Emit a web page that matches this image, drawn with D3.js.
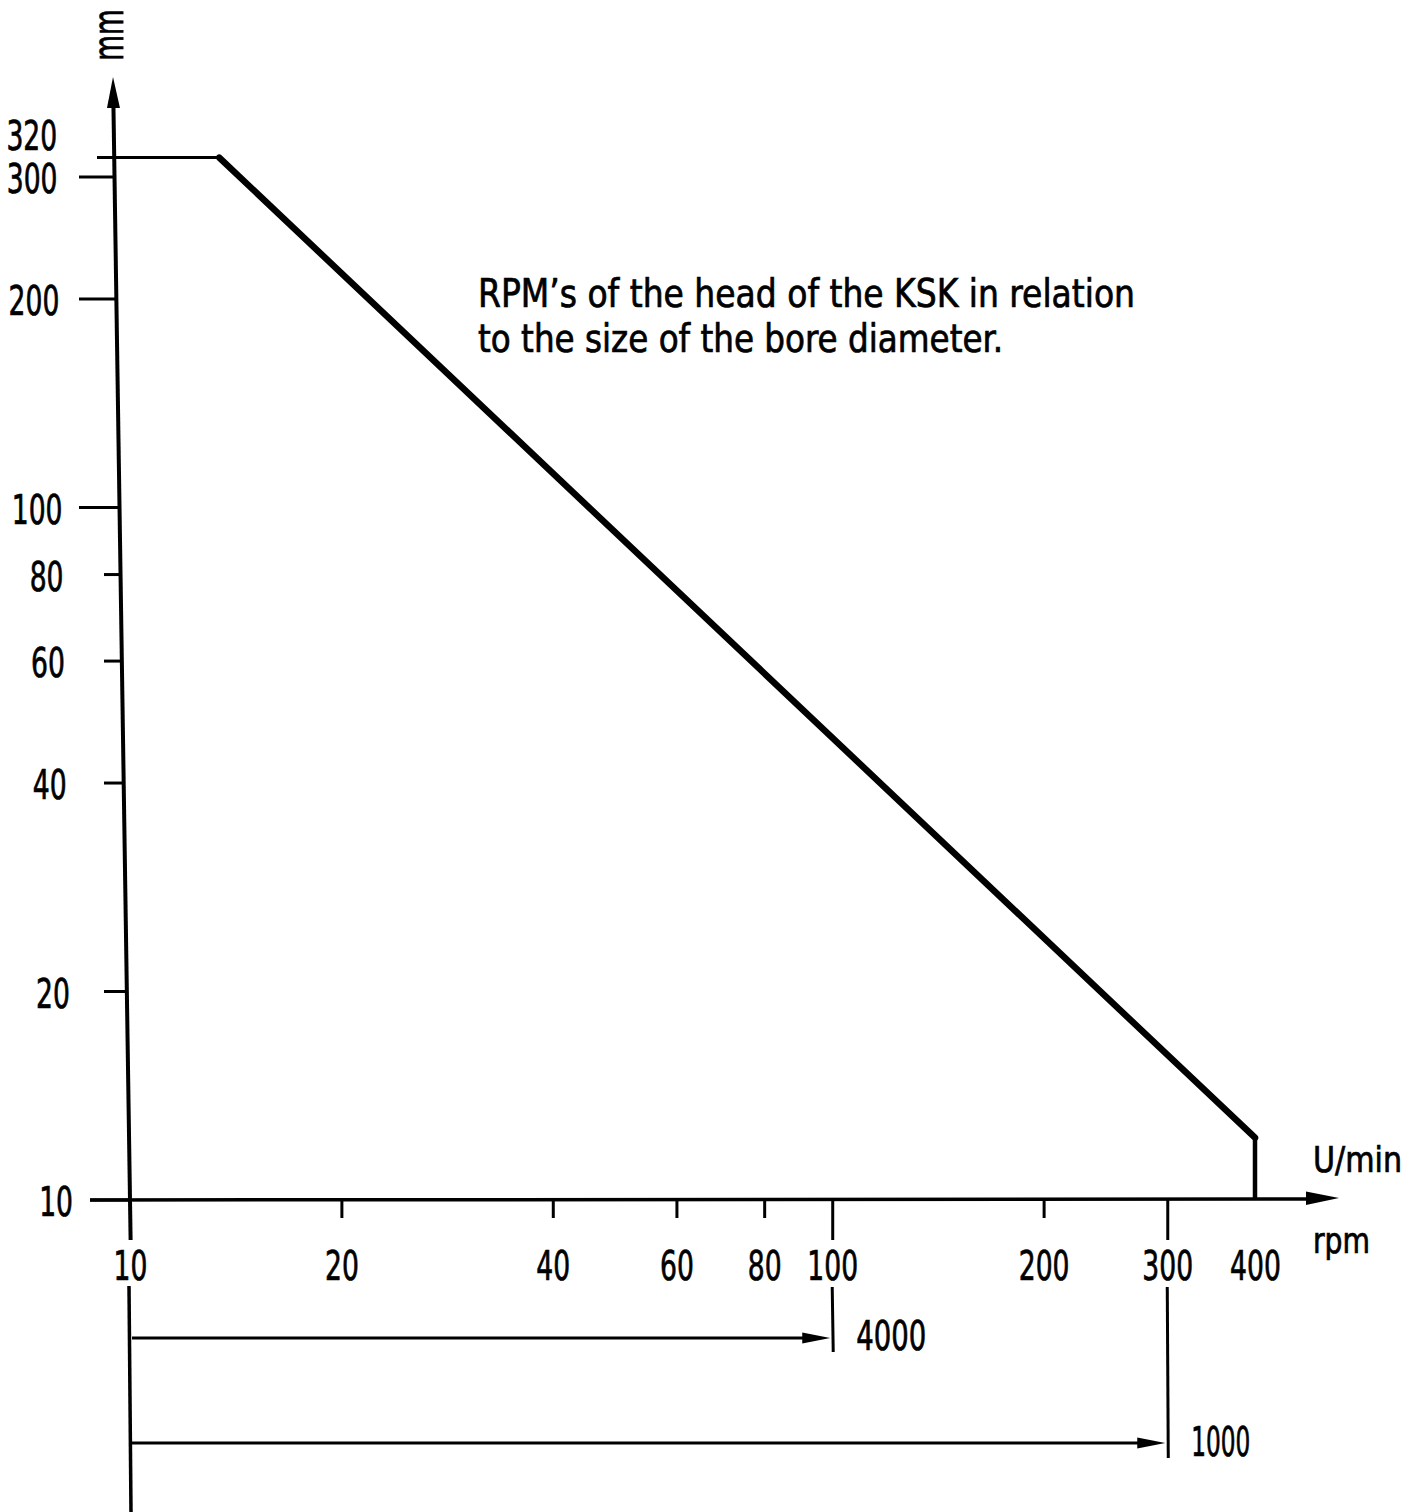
<!DOCTYPE html>
<html>
<head>
<meta charset="utf-8">
<script src="https://cdn.jsdelivr.net/npm/d3@7"></script>
<style>
  html, body { margin: 0; padding: 0; background: #fff; }
  svg { display: block; }
  text { font-family: "DejaVu Sans Condensed", "DejaVu Sans", sans-serif; fill: #000; stroke: #000; stroke-width: 0.7px; }
</style>
</head>
<body>
<script>
// ---------- data ----------
const yTickValues = [10, 20, 40, 60, 80, 100, 200, 300, 320];
const xTickValues = [10, 20, 40, 60, 80, 100, 200, 300, 400];
const curveRpm = [10, 13.4, 400, 400];      // rpm (U/min)
const curveDia = [320, 320, 12.3, 10];      // bore diameter, mm
const rangeStart = 10;
const rangeEnds = [100, 300];
const rangeLabels = ["4000", "1000"];
const titleLines = ["RPM’s of the head of the KSK in relation", "to the size of the bore diameter."];

// ---------- setup ----------
const W = 1421, H = 1512;
const svg = d3.select("body").append("svg").attr("width", W).attr("height", H);
svg.append("rect").attr("width", W).attr("height", H).attr("fill", "#fff");

const x = d3.scaleLog().domain([10, 400]).range([130, 1255]);
const y = d3.scaleLog().domain([10, 300]).range([1200, 177]);
const SX = 0.74;            // narrow technical lettering
const FS = 40;

// the drawn ordinate is slightly slanted
const axisTop = [113, 77], axisBot = [130, 1200];
const axisX = py => axisTop[0] + (py - axisTop[1]) * (axisBot[0] - axisTop[0]) / (axisBot[1] - axisTop[1]);

// ---------- y axis ----------
svg.append("line")
  .attr("x1", axisX(105)).attr("y1", 105)
  .attr("x2", axisX(1240)).attr("y2", 1240)
  .attr("stroke", "#000").attr("stroke-width", 4);
svg.append("path")
  .attr("d", `M${axisTop[0]},${axisTop[1]} L${axisX(108) - 6.5},108 L${axisX(108) + 6.5},108 Z`)
  .attr("fill", "#000");

const leftEnd = d => d === 320 ? 97 : d === 10 ? 90 : d >= 100 ? 79 : 104;
const gy = svg.append("g")
  .call(d3.axisLeft(y).tickValues(yTickValues).tickSize(0).tickFormat(d3.format("d")));
gy.select(".domain").remove();
gy.selectAll(".tick").attr("transform", d => `translate(${axisX(y(d))},${y(d)})`);
gy.selectAll(".tick line")
  .attr("x1", d => d === 320 ? x(10) - axisX(y(d)) + 2 : 0)
  .attr("x2", d => leftEnd(d) - axisX(y(d)))
  .attr("stroke", "#000").attr("stroke-width", 3);
gy.selectAll(".tick text")
  .attr("font-size", FS).attr("font-family", null)
  .attr("text-anchor", "end")
  .attr("x", -57 / SX)
  .attr("y", d => d === 320 ? -22 : 2)
  .attr("dy", "0.36em")
  .attr("transform", `scale(${SX},1)`);

svg.append("text")
  .attr("transform", "translate(123,35) rotate(-90) scale(0.7,1)")
  .attr("font-size", 42)
  .attr("text-anchor", "middle")
  .text("mm");

// ---------- x axis ----------
svg.append("line")
  .attr("x1", 90).attr("y1", 1200).attr("x2", 1312).attr("y2", 1199)
  .attr("stroke", "#000").attr("stroke-width", 3.5);
svg.append("path")
  .attr("d", "M1339,1198 L1306,1191.5 L1306,1205 Z")
  .attr("fill", "#000");

const tickLen = d => (d === 10 || d === 100 || d === 300) ? 40 : d === 400 ? 0 : 18;
const gx = svg.append("g").attr("transform", "translate(0,1200)")
  .call(d3.axisBottom(x).tickValues(xTickValues).tickSize(0).tickFormat(d3.format("d")));
gx.select(".domain").remove();
gx.selectAll(".tick line").attr("y2", d => tickLen(d)).attr("stroke", "#000").attr("stroke-width", 3);
gx.selectAll(".tick text")
  .attr("font-size", FS).attr("font-family", null)
  .attr("text-anchor", "middle")
  .attr("y", 80).attr("dy", 0)
  .attr("transform", `scale(${SX},1)`);

svg.append("text").attr("x", 1313).attr("y", 1172).attr("font-size", 36)
  .attr("textLength", 89).attr("lengthAdjust", "spacingAndGlyphs").text("U/min");
svg.append("text").attr("x", 1313).attr("y", 1253).attr("font-size", 36)
  .attr("textLength", 57).attr("lengthAdjust", "spacingAndGlyphs").text("rpm");

// ---------- curve ----------
const pts = curveRpm.map((r, i) => [x(r), y(curveDia[i])]);
const segWidths = [3, 6.5, 4.5];
for (let i = 0; i < pts.length - 1; i++) {
  svg.append("path")
    .attr("d", d3.line()([pts[i], pts[i + 1]]))
    .attr("fill", "none").attr("stroke", "#000")
    .attr("stroke-width", segWidths[i])
    .attr("stroke-linejoin", "round").attr("stroke-linecap", i === 1 ? "round" : "butt");
}

// ---------- title ----------
const titleLens = [657, 525];
titleLines.forEach((t, i) => {
  svg.append("text").attr("x", 478).attr("y", 307 + i * 45).attr("font-size", 39)
    .attr("textLength", titleLens[i]).attr("lengthAdjust", "spacingAndGlyphs").text(t);
});

// ---------- range annotations below the axis ----------
svg.append("line")
  .attr("x1", x(rangeStart) - 1).attr("y1", 1286).attr("x2", x(rangeStart) + 1).attr("y2", H)
  .attr("stroke", "#000").attr("stroke-width", 3.5);
const rowY = [1338, 1443];
const barTop = [1287, 1287], barBot = [1352, 1458];
const labLens = [70, 59];
rangeEnds.forEach((e, i) => {
  const xe = x(e), yy = rowY[i];
  svg.append("line").attr("x1", x(rangeStart) + 2).attr("y1", yy).attr("x2", xe - 26).attr("y2", yy)
    .attr("stroke", "#000").attr("stroke-width", 3);
  svg.append("path").attr("d", `M${xe - 2},${yy} L${xe - 30},${yy - 5.5} L${xe - 30},${yy + 5.5} Z`).attr("fill", "#000");
  svg.append("line").attr("x1", xe).attr("y1", barTop[i]).attr("x2", xe + 1).attr("y2", barBot[i])
    .attr("stroke", "#000").attr("stroke-width", 3);
  svg.append("text").attr("x", xe + 24).attr("y", barBot[i] - 2).attr("font-size", FS)
    .attr("textLength", labLens[i]).attr("lengthAdjust", "spacingAndGlyphs").text(rangeLabels[i]);
});
</script>
</body>
</html>
